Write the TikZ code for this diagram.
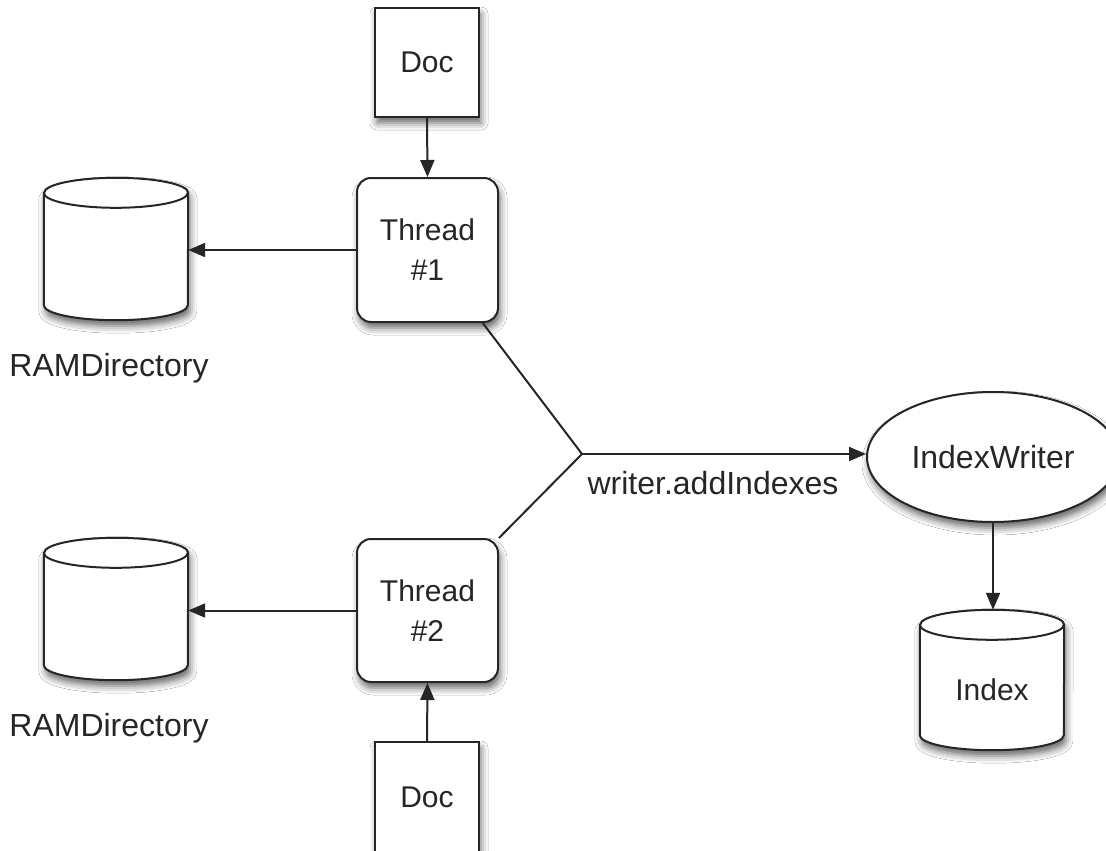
\documentclass[tikz,border=0pt]{standalone}
\usepackage{fontspec}
\setmainfont{Liberation Sans}
\usetikzlibrary{arrows.meta,shadows.blur,calc,shapes.geometric}
\newcommand\dbcyl[1]{%
  \path[fill=white,sh] ($(#1.north west)+(0,-15)$) -- ($(#1.south west)+(0,15)$)
    arc[start angle=180,end angle=360,x radius=72pt,y radius=15pt]
    -- ($(#1.north east)+(0,-15)$)
    arc[start angle=0,end angle=180,x radius=72pt,y radius=15pt] -- cycle;
  \draw[ln] ($(#1.north west)+(0,-15)$) -- ($(#1.south west)+(0,15)$)
    arc[start angle=180,end angle=360,x radius=72pt,y radius=15pt]
    -- ($(#1.north east)+(0,-15)$)
    arc[start angle=0,end angle=180,x radius=72pt,y radius=15pt] -- cycle;
  \draw[ln] ($(#1.north west)+(0,-15)$)
    arc[start angle=180,end angle=360,x radius=72pt,y radius=15pt];
}
\begin{document}
\begin{tikzpicture}[x=1pt,y=1pt,
  ln/.style={line width=2pt,draw=black!85},
  txt/.style={font=\fontsize{30}{40}\selectfont,text=black!85},
  txtl/.style={font=\fontsize{32}{40}\selectfont,text=black!85},
  sh/.style={blur shadow={shadow xshift=2pt,shadow yshift=-6pt,shadow blur radius=7pt,shadow opacity=60}},
  docbox/.style={ln,fill=white,sh,rectangle,minimum width=104pt,minimum height=109pt,inner sep=0pt,txt},
  thread/.style={ln,fill=white,sh,rectangle,rounded corners=14pt,minimum width=141pt,minimum height=144pt,inner sep=0pt,txt,align=center},
  cylbox/.style={rectangle,draw=none,minimum width=144pt,minimum height=142pt,inner sep=0pt},
  arr/.style={ln,-{Triangle[length=17pt,width=14pt]}},
  conn/.style={ln}
]
\clip (0,0) rectangle (1106,-851);
\fill[white] (0,0) rectangle (1106,-851);

% nodes
\node[docbox] (docA) at (427,-62.5) {Doc};
\node[thread] (t1) at (427.5,-250) {Thread\\\#1};
\node[thread,minimum height=143pt] (t2) at (427.5,-610.5) {Thread\\\#2};
\node[docbox,minimum height=110pt] (docB) at (427,-797) {Doc};

\node[cylbox] (c1) at (116,-249) {};
\node[cylbox] (c2) at (116,-609) {};
\node[cylbox,minimum height=140pt] (idx) at (992,-680) {};
\dbcyl{c1}
\dbcyl{c2}
\dbcyl{idx}
\node[txt] (idxlabel) at ($(idx.center)+(0,-10)$) {Index};
\node[txtl] (ram1) at (109,-368) {RAMDirectory};
\node[txtl] (ram2) at (109,-728) {RAMDirectory};

\node[ellipse,ln,fill=white,sh,minimum width=252pt,minimum height=130pt,inner sep=0pt,txtl] (iw) at (993,-457) {IndexWriter};

\coordinate (j) at (582,-454);
\node[txtl,anchor=center] (lbl) at (713,-483) {writer.addIndexes};

% connectors
\draw[arr] (docA.south) -- (t1.north);
\draw[arr] (t1.west) -- (t1.west -| c1.east);
\draw[arr] (t2.west) -- (t2.west -| c2.east);
\draw[arr] (docB.north) -- (t2.south);
\draw[conn] (t1) -- (j);
\draw[conn] (t2) -- (j);
\draw[arr] (j) -- (j -| iw.west);
\draw[arr] (iw.south) -- (iw.south |- idx.north);
\end{tikzpicture}
\end{document}
